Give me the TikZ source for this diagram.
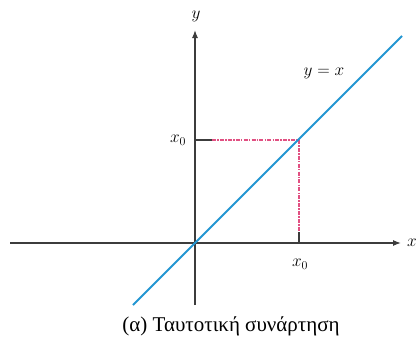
\documentclass[tikz,border=0pt]{standalone}
\usepackage{fontspec}
\setmainfont{Liberation Serif}
\usetikzlibrary{arrows.meta}
\definecolor{lineblue}{RGB}{35,150,210}
\definecolor{guidered}{RGB}{225,80,130}
\definecolor{axisgray}{RGB}{60,60,60}
\begin{document}
\begin{tikzpicture}[x=1pt,y=-1pt,
  axis/.style={draw=axisgray,line width=1.2pt,-{Latex[length=8pt,width=6pt]}},
  guide/.style={draw=guidered,line width=1.1pt,dash pattern=on 4pt off 1.2pt on 1.5pt off 1.2pt},
  lbl/.style={font=\fontsize{17}{20}\selectfont,inner sep=1pt}]
\useasboundingbox (0,0) rectangle (418,338);
\coordinate (O) at (195,243);
\coordinate (xl) at (10,243);
\coordinate (xr) at (401,243);
\coordinate (yb) at (195,305);
\coordinate (yt) at (195,30);
\coordinate (P) at (299,140);
\coordinate (Py) at (195,140);
\coordinate (Px) at (299,243);
\coordinate (Ly) at (212,140);
\coordinate (Lx) at (299,232);
\coordinate (b0) at (133,305);
\coordinate (b1) at (402,36);
\draw[axis] (xl) -- (xr);
\draw[axis] (yb) -- (yt);
\draw[guide] (Ly) -- (P) -- (Lx);
\draw[axisgray,line width=1.2pt] (Py) -- (Ly);
\draw[axisgray,line width=1.2pt] (Lx) -- (Px);
\draw[lineblue,line width=2pt] (b0) -- (b1);
\node[lbl] (ylab) at (196,16) {$y$};
\node[lbl] (xlab) at (412,243) {$x$};
\node[lbl] (eq) at (324,73) {$y=x$};
\node[lbl] (x0y) at (178,140) {$x_0$};
\node[lbl] (x0x) at (300,264) {$x_0$};
\node[font=\fontsize{21}{25}\selectfont,inner sep=1pt] (cap) at (231,326) {(α) Ταυτοτική συνάρτηση};
\end{tikzpicture}
\end{document}
